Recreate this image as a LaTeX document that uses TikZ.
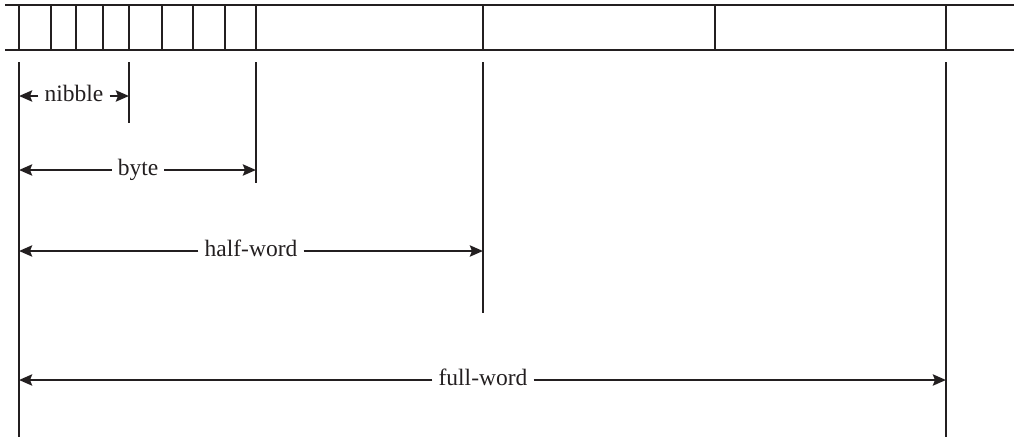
\documentclass[tikz,border=0pt]{standalone}
\usepackage{fontspec}
\setmainfont{Liberation Serif}
\usetikzlibrary{arrows.meta}
\definecolor{ink}{RGB}{35,31,32}
\begin{document}
\begin{tikzpicture}[x=1pt,y=-1pt,
  band/.style={line width=1.8pt, draw=ink},
  tick/.style={line width=1.8pt, draw=ink},
  dim/.style={line width=2.8pt, draw=ink, -{Stealth[length=13pt,width=11pt,inset=2pt]}},
  lbl/.style={font=\fontsize{23.5}{28}\selectfont, text=ink, inner xsep=6pt, inner ysep=0pt, anchor=base}]
\useasboundingbox (0,0) rectangle (1014,437);
% register band
\draw[band] (5,4.7) -- (1014,4.7);
\draw[band] (5,50) -- (1014,50);
\foreach \x in {19,51,76,103,129,162,193,225,256,483,715,946}
  \draw[tick] (\x,4.7) -- (\x,50);
% extension lines
\draw[tick] (19,62) -- (19,437);
\draw[tick] (129,62) -- (129,123);
\draw[tick] (256,62) -- (256,183);
\draw[tick] (483,62) -- (483,313);
\draw[tick] (946,62) -- (946,437);
% dimension end points
\coordinate (nL) at (19,96);  \coordinate (nR) at (129,96);
\coordinate (bL) at (19,170); \coordinate (bR) at (256,170);
\coordinate (hL) at (19,251); \coordinate (hR) at (483,251);
\coordinate (fL) at (19,380); \coordinate (fR) at (946,380);
% labels
\node[lbl] (nib) at (74,101) {nibble};
\node[lbl] (byt) at (138,175) {byte};
\node[lbl] (hw) at (251,256) {half-word};
\node[lbl] (fw) at (483,385) {full-word};
% arrows
\draw[dim] (nib.west |- nL) -- (nL);
\draw[dim] (nib.east |- nR) -- (nR);
\draw[dim] (byt.west |- bL) -- (bL);
\draw[dim] (byt.east |- bR) -- (bR);
\draw[dim] (hw.west |- hL) -- (hL);
\draw[dim] (hw.east |- hR) -- (hR);
\draw[dim] (fw.west |- fL) -- (fL);
\draw[dim] (fw.east |- fR) -- (fR);
\end{tikzpicture}
\end{document}
